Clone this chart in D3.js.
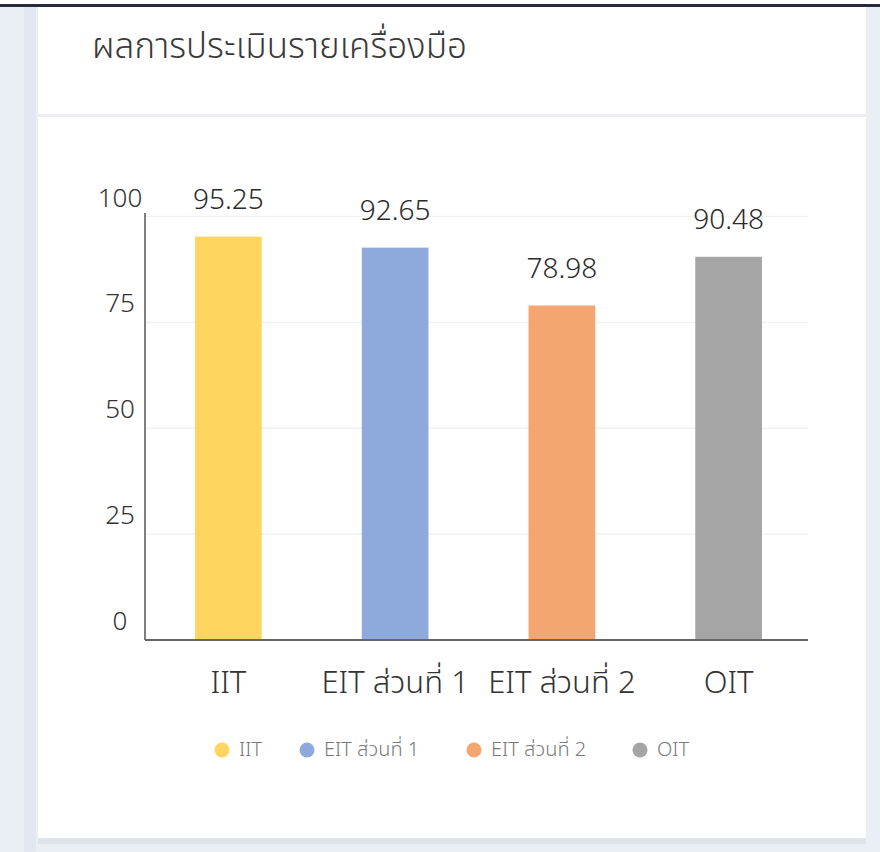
<!DOCTYPE html>
<html>
<head>
<meta charset="utf-8">
<script src="https://cdn.jsdelivr.net/npm/d3@7/dist/d3.min.js"></script>
<style>
  html, body { margin: 0; padding: 0; background: #eaeef5; }
  svg { display: block; }
  text { font-family: "Noto Sans Thai", "Noto Sans Thai Looped", "Noto Sans", "DejaVu Sans", sans-serif; font-weight: 300; }
</style>
</head>
<body>
<svg id="chart" width="880" height="852"></svg>
<script>
const title = "ผลการประเมินรายเครื่องมือ";
const categories = ["IIT", "EIT ส่วนที่ 1", "EIT ส่วนที่ 2", "OIT"];
const values = [95.25, 92.65, 78.98, 90.48];
const valueLabels = ["95.25", "92.65", "78.98", "90.48"];
const colors = ["#FDD55F", "#8EAADC", "#F4A671", "#A5A5A5"];
const yTicks = [0, 25, 50, 75, 100];

const svg = d3.select("#chart");

// page background / frame
svg.append("rect").attr("x", 0).attr("y", 0).attr("width", 880).attr("height", 852).attr("fill", "#eaeef5");
svg.append("rect").attr("x", 0).attr("y", 0).attr("width", 880).attr("height", 4).attr("fill", "#ffffff");
svg.append("rect").attr("x", 0).attr("y", 4).attr("width", 880).attr("height", 3).attr("fill", "#2a2a3a");
svg.append("rect").attr("x", 24).attr("y", 7).attr("width", 12).attr("height", 845).attr("fill", "#e3e7f0");
// card shadow + card
svg.append("rect").attr("x", 38).attr("y", 838).attr("width", 828).attr("height", 6).attr("fill", "#dfe3ea");
svg.append("rect").attr("x", 38).attr("y", 7).attr("width", 828).attr("height", 831).attr("fill", "#ffffff");
svg.append("rect").attr("x", 38).attr("y", 114).attr("width", 828).attr("height", 3).attr("fill", "#eceef2");

svg.append("text")
  .attr("x", 92).attr("y", 47)
  .attr("dominant-baseline", "central")
  .attr("font-size", 35)
  .attr("fill", "#3a3a3a")
  .text(title);

const x = d3.scaleBand().domain(categories).range([145, 812]).paddingInner(0.6).paddingOuter(0.3);
const y = d3.scaleLinear().domain([0, 100]).range([640, 216.5]);

// gridlines
svg.append("g").selectAll("line").data(yTicks.filter(t => t > 0)).join("line")
  .attr("x1", 145).attr("x2", 808)
  .attr("y1", d => y(d)).attr("y2", d => y(d))
  .attr("stroke", "#f1f1f1").attr("stroke-width", 1.5);

// y tick labels
svg.append("g").selectAll("text").data(yTicks).join("text")
  .attr("x", 120).attr("y", d => y(d) - 18)
  .attr("text-anchor", "middle").attr("dominant-baseline", "central")
  .attr("font-size", 26).attr("fill", "#333")
  .text(d => d);

// bars
svg.append("g").selectAll("rect").data(values).join("rect")
  .attr("x", (d, i) => x(categories[i]))
  .attr("width", x.bandwidth())
  .attr("y", d => y(d))
  .attr("height", d => y(0) - y(d))
  .attr("fill", (d, i) => colors[i]);

// value labels
svg.append("g").selectAll("text").data(values).join("text")
  .attr("x", (d, i) => x(categories[i]) + x.bandwidth() / 2)
  .attr("y", d => y(d) - 36)
  .attr("text-anchor", "middle").attr("dominant-baseline", "central")
  .attr("font-size", 28).attr("fill", "#2a2a2a")
  .text((d, i) => valueLabels[i]);

// axes lines
svg.append("line").attr("x1", 145).attr("x2", 145).attr("y1", 213).attr("y2", 640)
  .attr("stroke", "#555").attr("stroke-width", 1.5);
svg.append("line").attr("x1", 145).attr("x2", 808).attr("y1", 640).attr("y2", 640)
  .attr("stroke", "#666").attr("stroke-width", 2);

// x labels
svg.append("g").selectAll("text").data(categories).join("text")
  .attr("x", d => x(d) + x.bandwidth() / 2)
  .attr("y", 683)
  .attr("text-anchor", "middle").attr("dominant-baseline", "central")
  .attr("font-size", 31).attr("fill", "#333")
  .text(d => d);

// legend
const legendX = [222, 307, 474, 640];
const lg = svg.append("g").selectAll("g").data(categories).join("g")
  .attr("transform", (d, i) => `translate(${legendX[i]},750)`);
lg.append("circle").attr("r", 7.5).attr("fill", (d, i) => colors[i]);
lg.append("text").attr("x", 17).attr("y", 0)
  .attr("dominant-baseline", "central")
  .attr("font-size", 20).attr("fill", "#7a7a7a")
  .text(d => d);
</script>
</body>
</html>
